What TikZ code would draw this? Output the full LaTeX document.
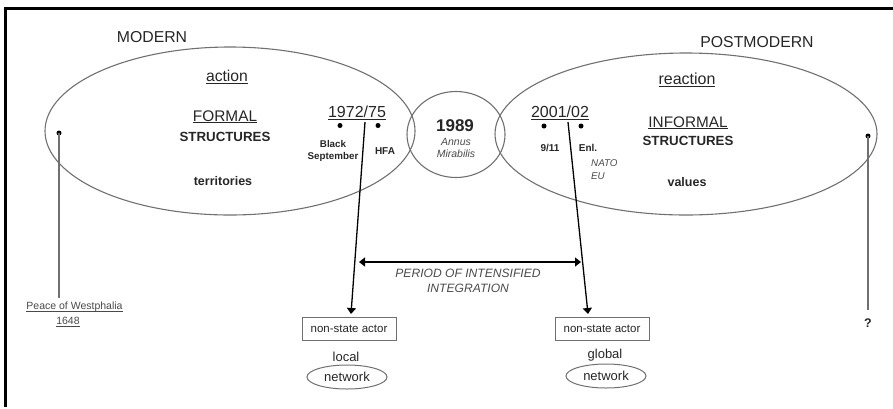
\documentclass[tikz,border=0pt]{standalone}
\usepackage{fontspec}
\setmainfont{Liberation Sans}
\usetikzlibrary{arrows.meta,shapes.geometric}
\definecolor{txtc}{HTML}{262626}
\definecolor{lgt}{HTML}{4A4A4A}
\definecolor{linec}{HTML}{707070}
\newcommand\fsz[2]{\fontsize{#1}{#2}\selectfont}
\newcommand\ulx[1]{\setbox0\hbox{#1}\rlap{\rule[-1.8pt]{\wd0}{1pt}}\box0}
\begin{document}
\begin{tikzpicture}[x=1pt,y=-1pt,
  txt/.style={inner sep=0pt, text=txtc, align=center},
  ital/.style={inner sep=0pt, text=lgt, align=center, font=\fsz{10.5pt}{12pt}\itshape},
  bigell/.style={draw=linec, line width=1.1pt},
  dotc/.style={circle, fill=black, inner sep=0pt, minimum size=5pt},
  gline/.style={draw=linec, line width=1.1pt},
  arr/.style={draw=black, line width=1.3pt, -{Triangle[length=6pt,width=9pt]}},
  darr/.style={draw=black, line width=1.3pt, {Triangle[length=6pt,width=9pt]}-{Triangle[length=6pt,width=9pt]}},
  nsbox/.style={draw=linec, line width=1pt, minimum width=94pt, minimum height=23pt, inner sep=0pt, text=txtc, font=\fsz{11.5pt}{13pt}},
  netell/.style={ellipse, draw=linec, line width=1pt, minimum width=80pt, minimum height=24pt, inner sep=0pt, text=txtc, font=\fsz{13pt}{15pt}}
]
\useasboundingbox (0,0) rectangle (893,408);
% frame
\draw[line width=2.2pt, black] (5.5,407) -- (5.5,8.5) -- (893,8.5);

% big shapes
\draw[bigell] (230,131) ellipse [x radius=185pt, y radius=84pt];
\draw[bigell] (456,134.5) ellipse [x radius=49pt, y radius=43pt];
\draw[bigell] (686,134) ellipse [x radius=191pt, y radius=81pt];

% headings
\node[txt, font=\fsz{15.8pt}{18pt}] (modern) at (152,37) {MODERN};
\node[txt, font=\fsz{15.8pt}{18pt}] (postmodern) at (757,42) {POSTMODERN};

% left ellipse texts
\node[txt, font=\fsz{15.7pt}{18pt}] (action) at (227,77) {\ulx{action}};
\node[txt, font=\fsz{15.4pt}{18pt}] (formal) at (225,117) {\ulx{FORMAL}};
\node[txt, font=\fsz{13.3pt}{15pt}\bfseries] (struct1) at (225,137) {STRUCTURES};
\node[txt, font=\fsz{12.5pt}{15pt}\bfseries] (territ) at (223,181) {territories};
\node[txt, font=\fsz{16pt}{18pt}] (y1972) at (357,113) {\ulx{1972/75}};
\node[dotc] (d1) at (340,125.5) {};
\node[dotc] (d2) at (378,125.5) {};
\node[txt, font=\fsz{9.8pt}{11.5pt}\bfseries] (blacksep) at (333,151) {Black\\September};
\node[txt, font=\fsz{10pt}{12pt}\bfseries] (hfa) at (385,151) {HFA};

% 1989
\node[txt, font=\fsz{17pt}{19pt}\bfseries] (y1989) at (455,126) {1989};
\node[ital] (annus) at (456,148) {Annus\\Mirabilis};

% right ellipse texts
\node[txt, font=\fsz{16pt}{18pt}] (y2001) at (560,113) {\ulx{2001/02}};
\node[dotc] (d3) at (544,126) {};
\node[dotc] (d4) at (581,126) {};
\node[txt, font=\fsz{10pt}{12pt}\bfseries] (nine) at (550,148) {9/11};
\node[txt, font=\fsz{10pt}{12pt}\bfseries] (enl) at (588,148) {Enl.};
\node[ital, align=left, font=\fsz{9.8pt}{13pt}\itshape, anchor=west] (nato) at (591,169.5) {NATO\\EU};
\node[txt, font=\fsz{16pt}{18pt}] (reaction) at (687,80) {\ulx{reaction}};
\node[txt, font=\fsz{15.3pt}{18pt}] (informal) at (688,123) {\ulx{INFORMAL}};
\node[txt, font=\fsz{13.3pt}{15pt}\bfseries] (struct2) at (688,141) {STRUCTURES};
\node[txt, font=\fsz{12.5pt}{15pt}\bfseries] (values) at (687,182) {values};

% left time line
\node[dotc] (dl) at (59,133) {};
\coordinate (dlend) at (59,298);
\draw[gline] (dl.center) -- (dlend);
\node[txt, text=lgt, font=\fsz{10.5pt}{12pt}] (westph) at (74.5,307) {\ulx{Peace of Westphalia}};
\node[txt, text=lgt, font=\fsz{10.5pt}{12pt}] (y1648) at (68,322) {\ulx{1648}};

% right time line
\node[dotc] (dr) at (868,136) {};
\coordinate (drend) at (868,310);
\draw[gline] (dr.center) -- (drend);
\node[txt, font=\fsz{12.5pt}{14pt}\bfseries] (qm) at (868,323) {?};

% boxes
\node[nsbox] (ns1) at (349,328.5) {non-state actor};
\node[nsbox] (ns2) at (602,328.5) {non-state actor};
\node[txt, font=\fsz{13pt}{15pt}] (local) at (346,357) {local};
\node[txt, font=\fsz{13pt}{15pt}] (global) at (605,355) {global};
\node[netell] (net1) at (347,377) {network};
\node[netell] (net2) at (606,376) {network};

% arrows from the dates
\coordinate (a1s) at (365,122);
\coordinate (a1e) at (351,314);
\coordinate (a2s) at (568,122);
\coordinate (a2e) at (588,314);
\draw[arr] (a1s) -- (a1e);
\draw[arr] (a2s) -- (a2e);

% period arrow
\coordinate (pl) at (359,262);
\coordinate (pr) at (581,262);
\draw[darr] (pl) -- (pr);
\node[txt, text=lgt, font=\fsz{12.1pt}{15pt}\itshape] (period) at (468,280.5) {PERIOD OF INTENSIFIED\\INTEGRATION};
\end{tikzpicture}
\end{document}
